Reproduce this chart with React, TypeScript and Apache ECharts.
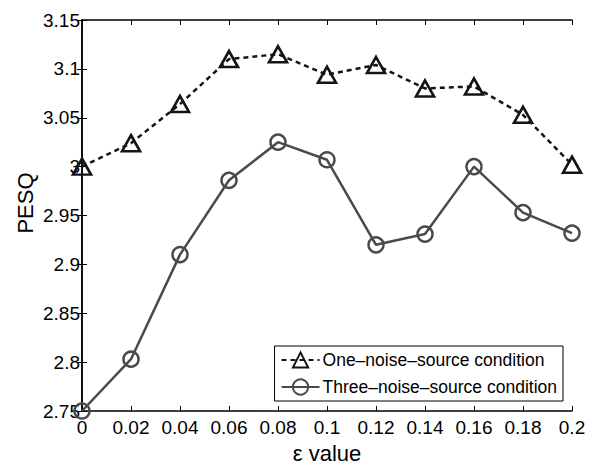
import React, { useEffect, useRef } from "react";
import * as echarts from "echarts";

const epsilon = [0, 0.02, 0.04, 0.06, 0.08, 0.1, 0.12, 0.14, 0.16, 0.18, 0.2];
const oneNoise = [3.0, 3.024, 3.064, 3.11, 3.115, 3.094, 3.104, 3.08, 3.082, 3.053, 3.002];
const threeNoise = [2.75, 2.803, 2.91, 2.986, 3.025, 3.007, 2.92, 2.931, 3.0, 2.953, 2.932];
const seriesNames = ["One\u2013noise\u2013source condition", "Three\u2013noise\u2013source condition"];
const xTitle = "\u03b5 value";
const yTitle = "PESQ";

const fmt = (v: number) => String(Math.round(v * 100) / 100);

export default function App() {
  const ref = useRef<HTMLDivElement>(null);
  useEffect(() => {
    document.body.style.margin = "0";
    if (!ref.current) return;
    const chart = echarts.init(ref.current, undefined, { renderer: "svg" });
    const font = "Liberation Sans, Arial, Helvetica, sans-serif";
    const axisLine = { show: true, lineStyle: { color: "#000", width: 1.5 } };
    const tick = { show: true, inside: true, length: 5, lineStyle: { color: "#000", width: 1 } };
    chart.setOption({
      animation: false,
      backgroundColor: "#fff",
      grid: { left: 82, right: 28, top: 20, bottom: 56, containLabel: false },
      legend: {
        orient: "vertical",
        right: 37,
        bottom: 66,
        padding: [5, 6, 5, 6],
        itemWidth: 38,
        itemHeight: 19,
        itemGap: 9,
        borderColor: "#000",
        borderWidth: 1,
        backgroundColor: "#fff",
        textStyle: { fontFamily: font, fontSize: 17.5, color: "#000", padding: [0, 0, 0, -2] },
        data: seriesNames,
      },
      graphic: [
        {
          type: "text",
          x: 327,
          y: 453,
          style: {
            text: xTitle,
            fontFamily: font,
            fontSize: 22,
            fill: "#000",
            textAlign: "center",
            textVerticalAlign: "middle",
          },
        },
        {
          type: "text",
          x: 25,
          y: 203,
          rotation: Math.PI / 2,
          style: {
            text: yTitle,
            fontFamily: font,
            fontSize: 22,
            fill: "#000",
            textAlign: "center",
            textVerticalAlign: "middle",
          },
        },
      ],
      xAxis: [
        {
          type: "value",
          min: 0,
          max: 0.2,
          interval: 0.02,
          axisLine,
          axisTick: tick,
          splitLine: { show: false },
          axisLabel: { fontFamily: font, fontSize: 19, color: "#000", margin: 7, formatter: fmt },
        },
        {
          type: "value",
          position: "top",
          min: 0,
          max: 0.2,
          interval: 0.02,
          axisLine,
          axisTick: tick,
          splitLine: { show: false },
          axisLabel: { show: false },
        },
      ],
      yAxis: [
        {
          type: "value",
          min: 2.75,
          max: 3.15,
          interval: 0.05,
          axisLine,
          axisTick: tick,
          splitLine: { show: false },
          axisLabel: { fontFamily: font, fontSize: 19, color: "#000", margin: 2, formatter: fmt },
        },
        {
          type: "value",
          position: "right",
          min: 2.75,
          max: 3.15,
          interval: 0.05,
          axisLine,
          axisTick: tick,
          splitLine: { show: false },
          axisLabel: { show: false },
        },
      ],
      series: [
        {
          name: seriesNames[0],
          type: "line",
          data: epsilon.map((x, i) => [x, oneNoise[i]]),
          symbol: "triangle",
          symbolSize: [18, 16],
          lineStyle: { color: "#141414", width: 2.5, type: [5, 4] },
          itemStyle: { color: "rgba(255,255,255,0)", borderColor: "#141414", borderWidth: 2.6 },
          z: 3,
        },
        {
          name: seriesNames[1],
          type: "line",
          data: epsilon.map((x, i) => [x, threeNoise[i]]),
          symbol: "circle",
          symbolSize: 15,
          lineStyle: { color: "#4a4a4a", width: 2.5 },
          itemStyle: { color: "rgba(255,255,255,0)", borderColor: "#4a4a4a", borderWidth: 2.5 },
          z: 2,
        },
      ],
    });
    return () => chart.dispose();
  }, []);
  return <div ref={ref} style={{ width: 600, height: 467 }} />;
}
